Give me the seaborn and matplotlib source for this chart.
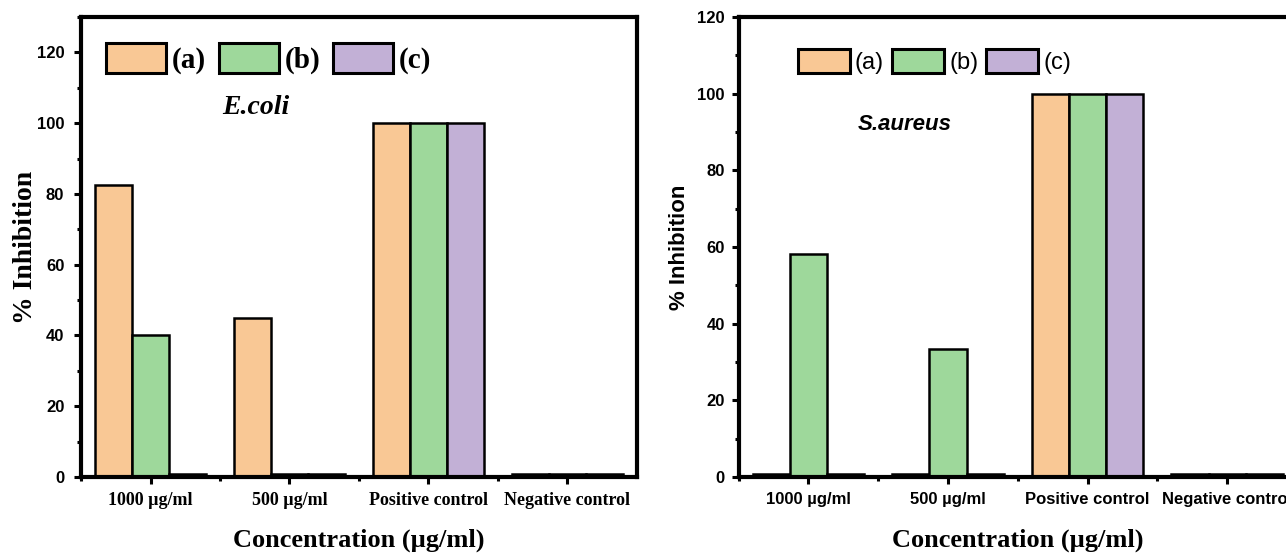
import pandas as pd
import numpy as np
import matplotlib
matplotlib.use("Agg")
import matplotlib.pyplot as plt
from matplotlib.patches import Patch
from matplotlib.ticker import MultipleLocator, FixedLocator
import seaborn as sns

# ── Data ─────────────────────────────────────────────────────────────────────
# the "empty" bars show up as thin black slivers on the axis in the source
concentrations = ["1000 µg/ml", "500 µg/ml", "Positive control", "Negative control"]
samples = ["(a)", "(b)", "(c)"]

ecoli_a = [82.5, 45.0, 100.0, 0.9]
ecoli_b = [40.0, 0.9, 100.0, 0.9]
ecoli_c = [0.9, 0.9, 100.0, 0.9]

saureus_a = [0.9, 0.9, 100.0, 0.9]
saureus_b = [58.3, 33.3, 100.0, 0.9]
saureus_c = [0.9, 0.9, 100.0, 0.9]

COLORS = ["#F9C895", "#9ED89B", "#C2B0D6"]


def to_frame(a, b, c):
    rows = []
    for lab, vals in zip(samples, [a, b, c]):
        for conc, v in zip(concentrations, vals):
            rows.append({"conc": conc, "sample": lab, "inhibition": v})
    return pd.DataFrame(rows)


ecoli = to_frame(ecoli_a, ecoli_b, ecoli_c)
saureus = to_frame(saureus_a, saureus_b, saureus_c)

sns.set_theme(style="ticks")
plt.rcParams["axes.linewidth"] = 3
plt.rcParams["text.color"] = "black"
plt.rcParams["axes.labelcolor"] = "black"

fig = plt.figure(figsize=(12.86, 5.53), dpi=100)
ax1 = fig.add_axes([0.063, 0.1374, 0.4323, 0.8318])
ax2 = fig.add_axes([0.5743, 0.1374, 0.4343, 0.8318])

SERIF = "Liberation Serif"
SANS = "Liberation Sans"


def draw(ax, data, ymax, tick_font, tick_size, ytick_font, ytick_size):
    sns.barplot(data=data, x="conc", y="inhibition", hue="sample",
                palette=COLORS, saturation=1, edgecolor="black", linewidth=1.8,
                width=0.8, errorbar=None, legend=False, ax=ax)
    ax.set_xlim(-0.5, 3.5)
    ax.set_ylim(0, ymax)
    ax.yaxis.set_major_locator(MultipleLocator(20))
    ax.yaxis.set_minor_locator(MultipleLocator(10))
    ax.xaxis.set_minor_locator(FixedLocator([-0.5, 0.5, 1.5, 2.5]))
    ax.tick_params(axis="both", which="major", direction="out", length=5,
                   width=2.2, color="black")
    ax.tick_params(axis="both", which="minor", direction="out", length=3,
                   width=2.2, color="black")
    ax.tick_params(axis="x", which="major", pad=6)
    for sp in ax.spines.values():
        sp.set_visible(True)
        sp.set_color("black")
        sp.set_linewidth(3)
    for lab in ax.get_xticklabels():
        lab.set_fontfamily(tick_font)
        lab.set_fontsize(tick_size)
        lab.set_fontweight("bold")
        lab.set_color("black")
    for lab in ax.get_yticklabels():
        lab.set_fontfamily(ytick_font)
        lab.set_fontsize(ytick_size)
        lab.set_fontweight("bold")
        lab.set_color("black")
    ax.set_xlabel("Concentration (µg/ml)", fontfamily=SERIF, fontsize=19,
                  fontweight="bold", color="black")
    ax.xaxis.set_label_coords(0.5, -0.112)


# ── Left: E.coli ─────────────────────────────────────────────────────────────
draw(ax1, ecoli, 130, SERIF, 13, SANS, 12)
ax1.tick_params(axis="y", which="major", pad=7)
ax1.set_ylabel("% Inhibition", fontfamily=SERIF, fontsize=20,
               fontweight="bold", color="black")
ax1.yaxis.set_label_coords(-0.077, 0.5)
handles = [Patch(facecolor=c, edgecolor="black", linewidth=2.2) for c in COLORS]
ax1.legend(handles, samples, loc="center left", bbox_to_anchor=(0.045, 0.909),
           ncol=3, frameon=False, borderpad=0, borderaxespad=0,
           handlelength=2.05, handleheight=1.2, handletextpad=0.2,
           columnspacing=0.45, labelcolor="black",
           prop={"family": SERIF, "weight": "bold", "size": 21})
ax1.text(0.315, 0.804, "E.coli", transform=ax1.transAxes, ha="center",
         va="center", fontfamily=SERIF, fontsize=20, fontweight="bold",
         fontstyle="italic", color="black")

# ── Right: S.aureus ──────────────────────────────────────────────────────────
draw(ax2, saureus, 120, SANS, 12, SANS, 12)
ax2.tick_params(axis="y", which="major", pad=5)
ax2.set_ylabel("% Inhibition", fontfamily=SANS, fontsize=16,
               fontweight="bold", color="black")
ax2.yaxis.set_label_coords(-0.087, 0.5)
handles = [Patch(facecolor=c, edgecolor="black", linewidth=2.2) for c in COLORS]
ax2.legend(handles, samples, loc="center left", bbox_to_anchor=(0.107, 0.904),
           ncol=3, frameon=False, borderpad=0, borderaxespad=0,
           handlelength=2.2, handleheight=1.2, handletextpad=0.2,
           columnspacing=0.35, labelcolor="black",
           prop={"family": SANS, "size": 17})
ax2.text(0.298, 0.767, "S.aureus", transform=ax2.transAxes, ha="center",
         va="center", fontfamily=SANS, fontsize=16, fontweight="bold",
         fontstyle="italic", color="black")

plt.savefig("out.png", dpi=100)
plt.close()
